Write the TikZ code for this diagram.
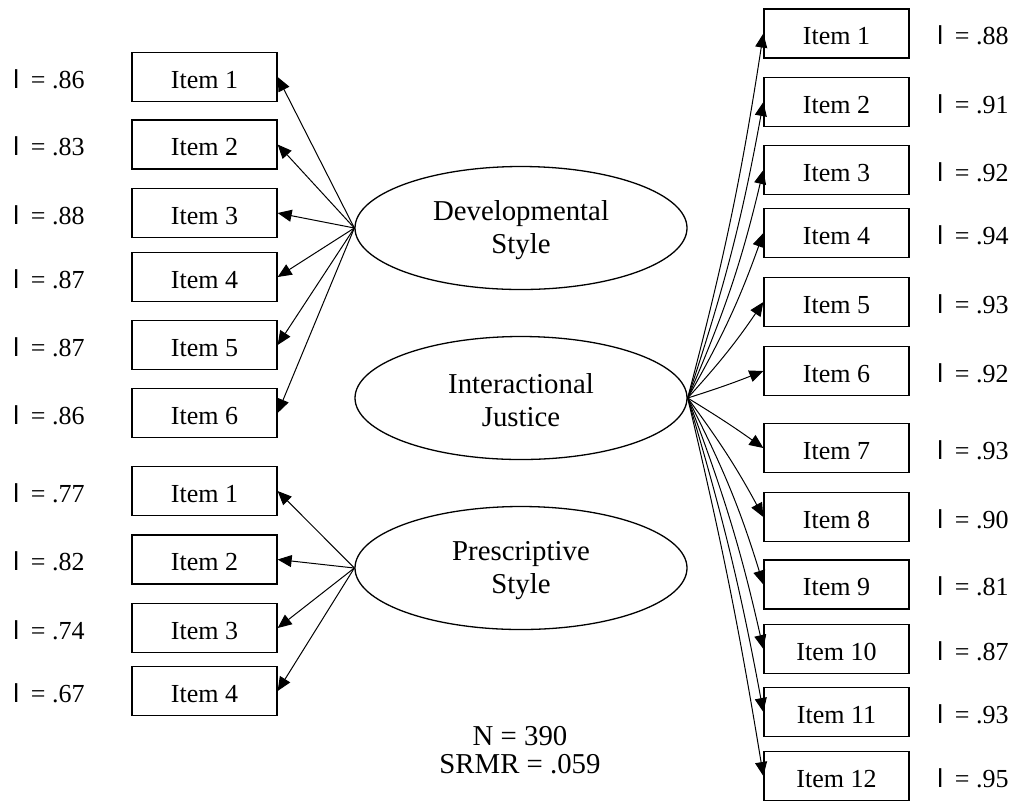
\documentclass[tikz,border=0pt]{standalone}
\usepackage{fontspec}
\setmainfont{Liberation Serif}
\newfontfamily\lamfont{Liberation Sans}
\usetikzlibrary{arrows.meta,shapes.geometric}
\begin{document}
\begin{tikzpicture}[x=0.5pt,y=-0.5pt,
  itembox/.style={draw,line width=0.65pt,minimum width=72.5pt,minimum height=24.5pt,inner sep=0pt,text height=11.1pt,text depth=0pt,font=\fontsize{13}{15}\selectfont},
  latent/.style={draw,ellipse,line width=0.65pt,minimum width=166pt,minimum height=61.5pt,inner sep=0pt,align=center,font=\fontsize{14.4}{16.5}\selectfont},
  lam/.style={anchor=west,inner sep=0pt,text height=11pt,text depth=0pt,font=\fontsize{13}{15}\selectfont},
  load/.style={line width=0.5pt,-{Triangle[length=7pt,width=6pt]}}]
\useasboundingbox (0,0) rectangle (1016,800);
\newcommand{\lbl}[1]{{\lamfont l}\hspace{0.45em}= #1}
\newcommand{\topstrut}{\rule{0pt}{12.3pt}}
% latent variables
\node[latent] (dev) at (521,228) {\topstrut Developmental\\Style};
\node[latent] (ij) at (521,398) {\topstrut Interactional\\Justice};
\node[latent] (pre) at (521,568) {\topstrut Prescriptive\\Style};
% left items, developmental
\foreach \i/\y/\v in {1/77/.86,2/144.5/.83,3/213/.88,4/277/.87,5/345/.87,6/413/.86}{
  \node[itembox] (d\i) at (204.5,\y) {Item \i};
  \node[lam] (dl\i) at (13,\y) {\lbl{\v}};
  \draw[load] (dev.west) -- (d\i.east);
}
% left items, prescriptive
\foreach \i/\y/\v in {1/491/.77,2/559.5/.82,3/628/.74,4/691/.67}{
  \node[itembox] (p\i) at (204.5,\y) {Item \i};
  \node[lam] (pl\i) at (13,\y) {\lbl{\v}};
  \draw[load] (pre.west) -- (p\i.east);
}
% right items, interactional justice
\foreach \i/\y/\v/\b in {1/33.5/.88/3,2/102/.91/4,3/170/.92/5,4/233/.94/5,5/302/.93/4,6/371/.92/2}{
  \node[itembox] (j\i) at (836.5,\y) {Item \i};
  \node[lam] (jl\i) at (937,\y) {\lbl{\v}};
  \draw[load] (ij.east) to[bend right=\b] (j\i.west);
}
\foreach \i/\y/\v/\b in {7/448/.93/2,8/517/.90/4,9/584.5/.81/5,10/649/.87/4,11/712/.93/3,12/776/.95/2}{
  \node[itembox] (j\i) at (836.5,\y) {Item \i};
  \node[lam] (jl\i) at (937,\y) {\lbl{\v}};
  \draw[load] (ij.east) to[bend left=\b] (j\i.west);
}
% fit statistics
\node[align=center,inner sep=0pt,font=\fontsize{14.4}{14.2}\selectfont] (fit) at (520,750) {N = 390\\SRMR = .059};
\end{tikzpicture}
\end{document}
